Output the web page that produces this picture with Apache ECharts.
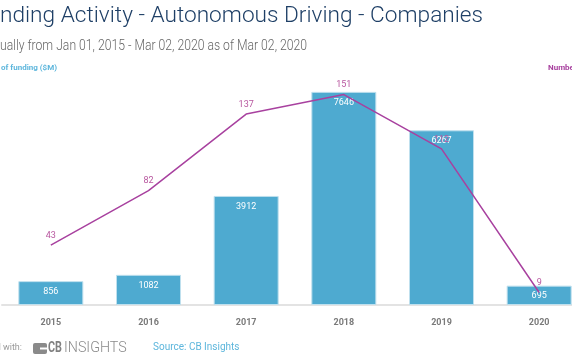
<!DOCTYPE html>
<html><head><meta charset="utf-8">
<script src="https://cdn.jsdelivr.net/npm/echarts@6/dist/echarts.min.js"></script>
<style>html,body{margin:0;padding:0;background:#fff;overflow:hidden}#c{width:590px;height:364px}</style>
</head><body><div id="c"></div>
<script>
const years = ['2015','2016','2017','2018','2019','2020'];
const funding = [856, 1082, 3912, 7646, 6267, 695];
const deals = [43, 82, 137, 151, 112, 9];

const titleText = 'Funding Activity - Autonomous Driving - Companies';
const subText = 'Annually from Jan 01, 2015 - Mar 02, 2020 as of Mar 02, 2020';

const ctx = document.createElement('canvas').getContext('2d');
function w(txt, font){ ctx.font = font; return ctx.measureText(txt).width; }
const titleScale = 483 / w('nding Activity - Autonomous Driving - Companies', '300 22px Roboto');
const subScale = 307 / w('ually from Jan 01, 2015 - Mar 02, 2020 as of Mar 02, 2020', '300 15px Roboto');

const chart = echarts.init(document.getElementById('c'));
chart.setOption({
  animation: false,
  grid: {left: 2, right: 2, top: 82, bottom: 59},
  xAxis: {
    type: 'category', data: years,
    axisLine: {lineStyle: {color: '#e3e3e3', width: 2}},
    axisTick: {alignWithLabel: true, length: 8, lineStyle: {color: '#d0d0d0'}},
    axisLabel: {color: '#7a7a7a', fontWeight: 'bold', fontSize: 9, fontFamily: 'Roboto', margin: 13}
  },
  yAxis: [
    {type: 'value', min: 0, max: 8000, show: false, splitLine: {show: false}},
    {type: 'value', min: 0, max: 160, show: false, splitLine: {show: false}}
  ],
  series: [
    {type: 'bar', data: funding, barWidth: 65, yAxisIndex: 0,
     itemStyle: {color: '#4eaad0', borderColor: '#bfe0ee', borderWidth: 1},
     label: {show: true, position: 'insideTop', color: '#fff', fontSize: 9, fontFamily: 'Roboto', distance: 6}},
    {type: 'line', data: deals, yAxisIndex: 1, symbol: 'circle', symbolSize: 0,
     lineStyle: {color: '#a8419f', width: 1.5}, itemStyle: {color: '#a8419f'},
     label: {show: true, position: 'top', color: '#b8579f', fontSize: 9, fontFamily: 'Roboto', distance: 5}}
  ],
  graphic: [
    {type: 'text', x: 483, y: 5, scaleX: titleScale, style: {text: titleText, align: 'right', fill: '#1e3f66', fontSize: 22, fontFamily: 'Roboto', fontWeight: 300}},
    {type: 'text', x: 307, y: 39, scaleX: subScale, style: {text: subText, align: 'right', fill: '#666', fontSize: 15, fontFamily: 'Roboto', fontWeight: 300}},
    {type: 'text', x: 57, y: 64, style: {text: 'Total amount of funding ($M)', align: 'right', fill: '#5db6dc', fontSize: 8, fontFamily: 'Roboto', fontWeight: 'bold'}},
    {type: 'text', x: 548, y: 64, style: {text: 'Number of deals', align: 'left', fill: '#a8419f', fontSize: 8, fontFamily: 'Roboto', fontWeight: 'bold'}},
    {type: 'text', x: 22, y: 343, style: {text: 'Created with:', align: 'right', fill: '#999', fontSize: 9, fontFamily: 'Roboto'}},
    {type: 'rect', shape: {x: 33, y: 343, width: 14, height: 11, r: 2}, style: {fill: '#8a8a8a'}},
    {type: 'rect', shape: {x: 40, y: 347.5, width: 7, height: 2}, style: {fill: '#fff'}},
    {type: 'text', x: 48, y: 341, scaleX: 0.72, style: {text: 'CB', fill: '#808080', fontSize: 15, fontFamily: 'Roboto', fontWeight: 'bold'}},
    {type: 'text', x: 64, y: 341, scaleX: 0.95, style: {text: 'INSIGHTS', fill: '#8a8a8a', fontSize: 15, fontFamily: 'Roboto', fontWeight: 300}},
    {type: 'text', x: 153, y: 342, style: {text: 'Source: CB Insights', fill: '#5db6dc', fontSize: 10, fontFamily: 'Roboto'}}
  ]
});
</script></body></html>
